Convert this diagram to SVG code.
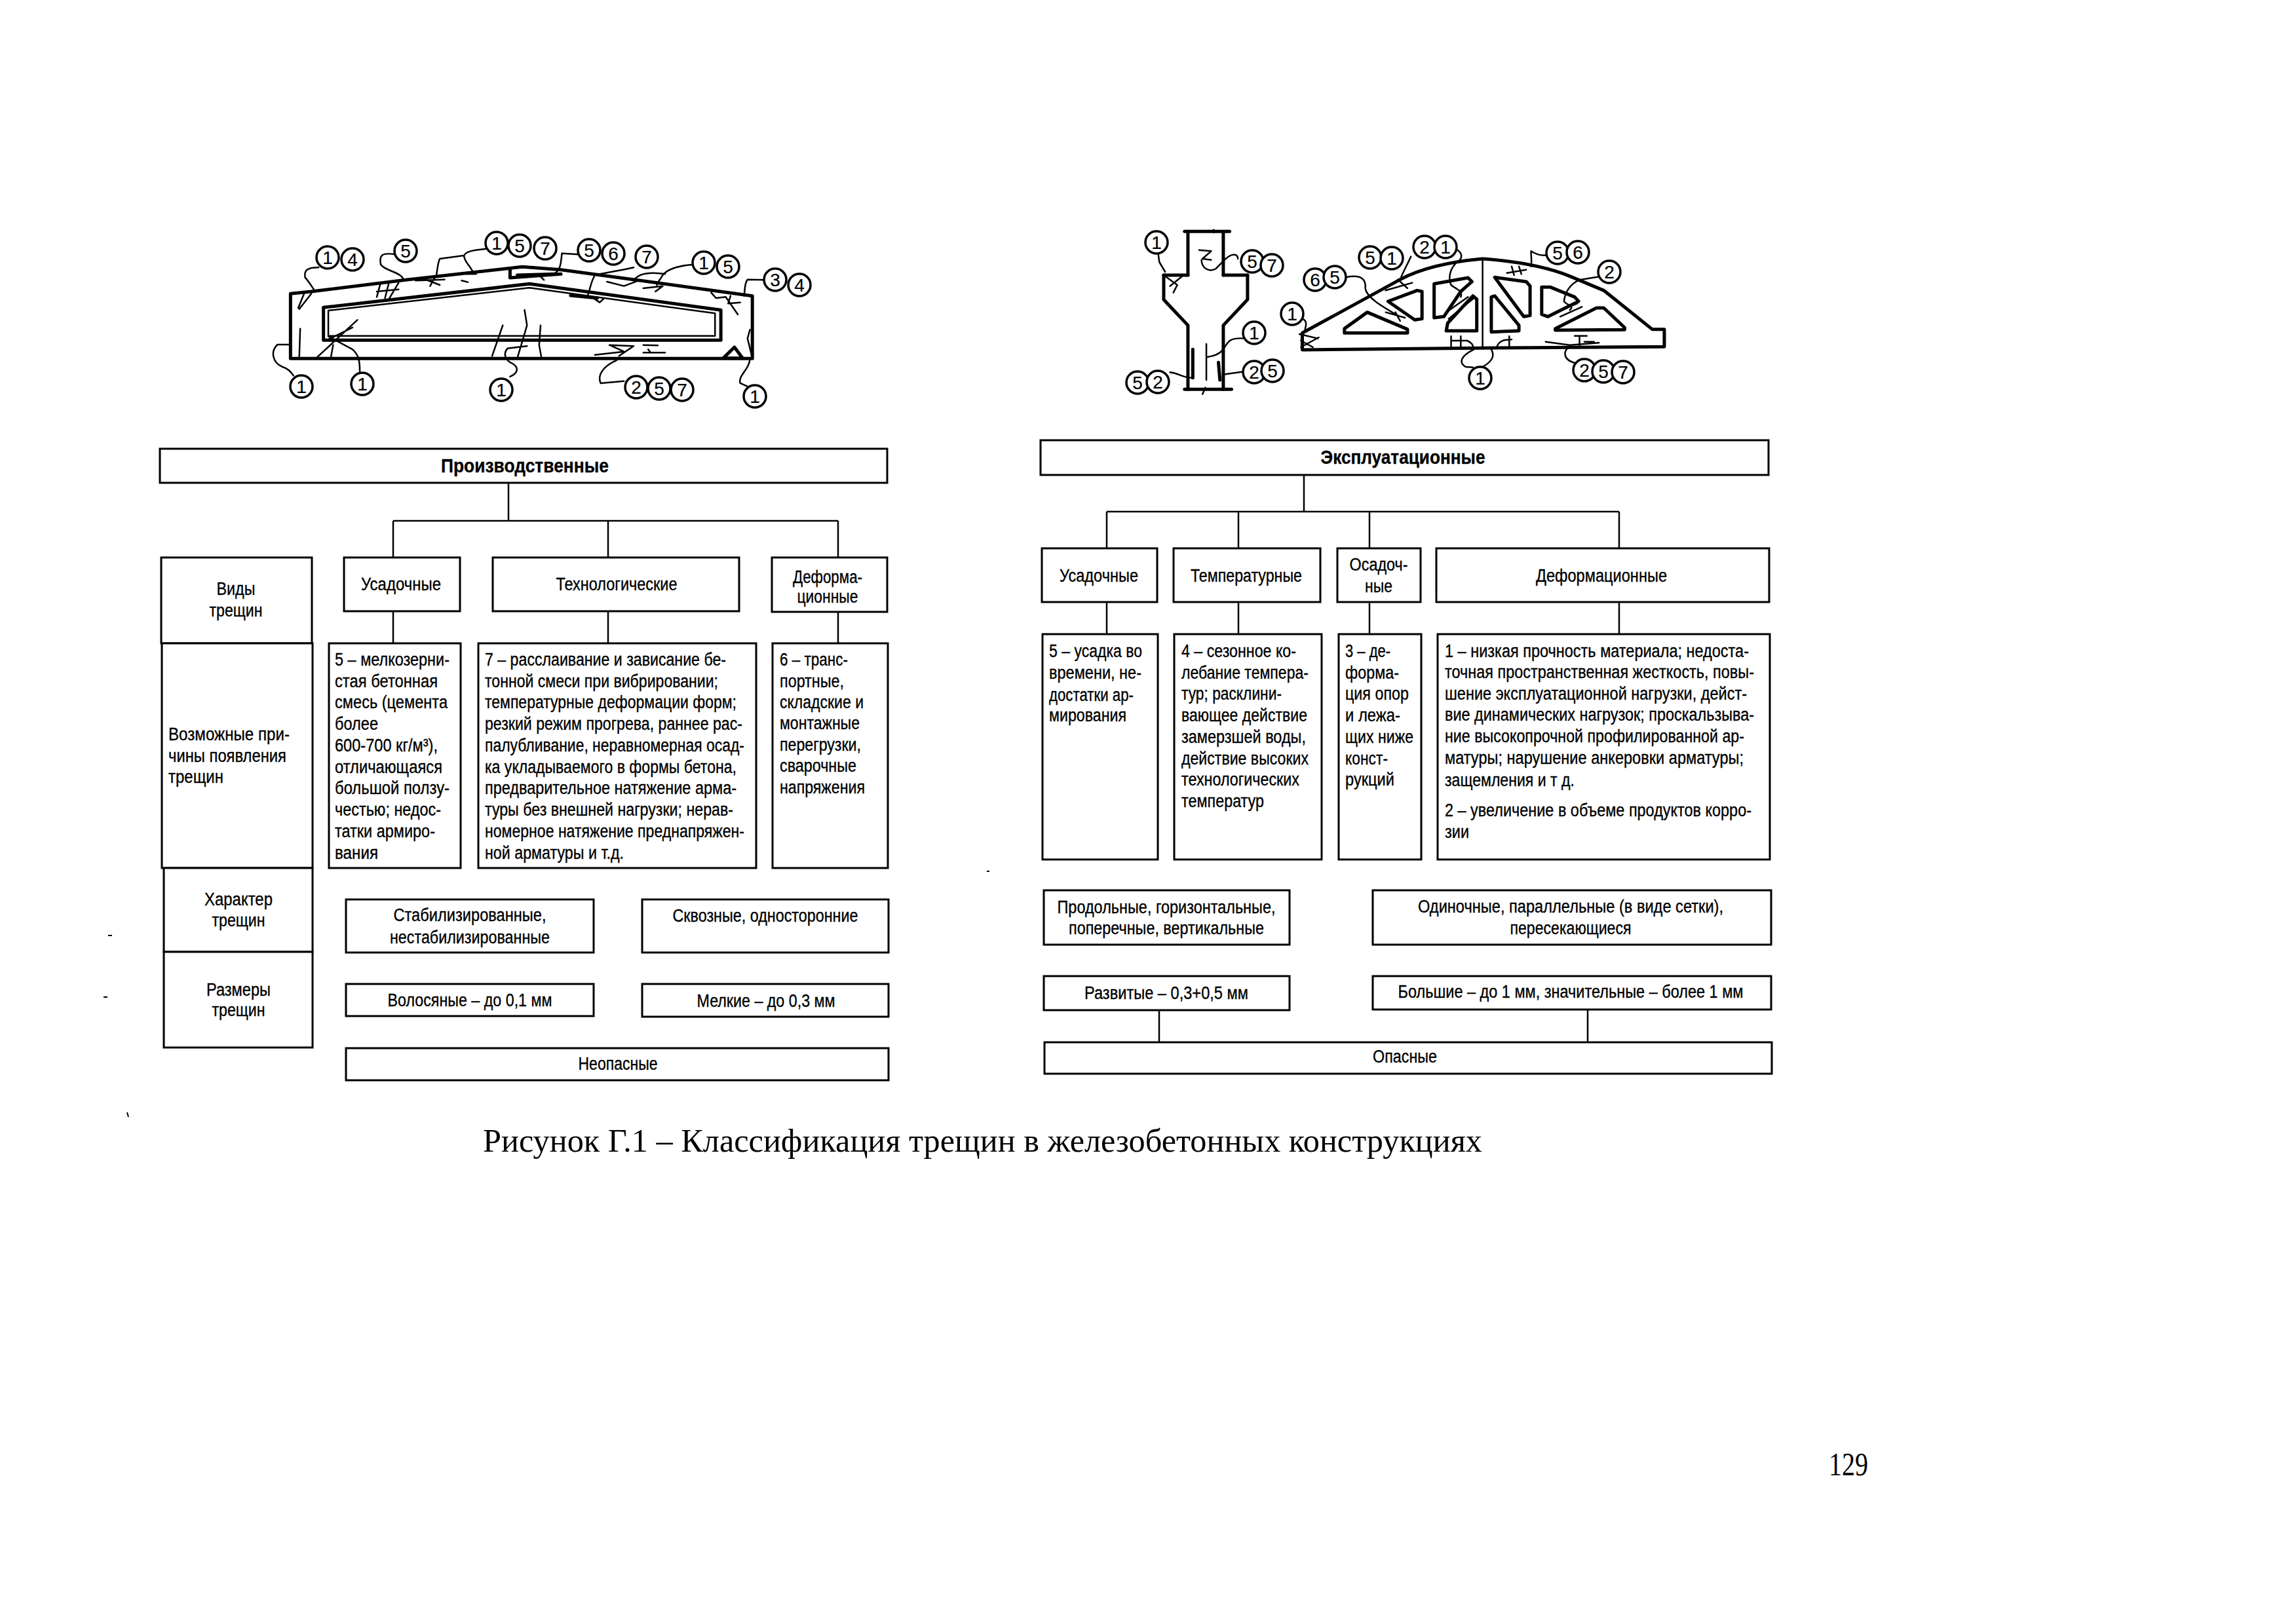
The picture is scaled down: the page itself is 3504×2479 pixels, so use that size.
<svg xmlns="http://www.w3.org/2000/svg" width="3504" height="2479" viewBox="0 0 3504 2479">
<style>
text{font-family:"Liberation Sans",Arial,sans-serif;font-size:27px;fill:#000;stroke:#000;stroke-width:.35px}
.m{text-anchor:middle}
.h{font-weight:bold;font-size:29px}
.cap{font-family:"Liberation Serif","Times New Roman",serif;font-size:50px;stroke:none}
.n{font-size:28px;text-anchor:middle;stroke-width:.2px}
.b{fill:#fff;stroke:#000;stroke-width:3px}
.c{fill:none;stroke:#000;stroke-width:2.5px}
.o{fill:#fff;stroke:#000;stroke-width:3.5px}
.s{fill:none;stroke:#000;stroke-width:2px}
.d path{fill:none;stroke:#000;stroke-linejoin:round;stroke-linecap:round;vector-effect:non-scaling-stroke;stroke-width:2.5px}
.d path.k{stroke-width:5px}
</style>
<rect width="3504" height="2479" fill="#fff"/>

<g id="connectors" class="c">
<path d="M776 737V795M600 795H1279M600 795V851M928 795V851M1279 795V851M600 933V982M928 933V982M1279 934V982"/>
<path d="M1990 725V781M1689 781H2471M1689 781V837M1890 781V837M2090 781V837M2471 781V837M1689 919V968M1890 919V968M2090 919V968M2471 919V968"/>
<path d="M1769 1542V1591M2423 1541V1591"/>
</g>

<g id="drawing-beam" class="d" transform="translate(220 320) scale(.7396 .3333)">
<path class="k" d="M302 682V385L345 375L540 322L780 262L860 275L1255 395V682H302Z"/>
<path class="k" d="M370 595V448L795 340L1190 460V598H370Z"/>
<path d="M380 578V462L795 358L1178 475V578H380Z"/>
<path d="M360 265C335 265 330 280 332 310C340 330 345 350 350 365M345 385L320 455M330 385L318 450"/>
<path d="M518 205C490 195 485 210 488 250C495 280 530 285 535 320M488 335L480 400M505 335L497 405M525 335L505 410M480 375L525 365"/>
<path d="M705 180C680 185 665 190 660 210L610 225C605 250 605 280 603 300M660 210C660 240 675 260 680 295M560 325L620 320M575 315L610 345M600 310L590 350M665 295H685M655 325L668 332"/>
<path class="k" d="M755 275V312L860 295M770 300L850 295"/>
<path d="M815 300L825 322M895 205L862 200C860 240 860 280 845 295"/>
<path d="M1010 265C980 280 950 290 930 300C920 340 920 370 915 395M930 410L940 425L948 408"/>
<path class="k" d="M880 393L935 405"/>
<path d="M1130 252C1090 260 1075 285 1070 300C1065 320 1060 330 1058 345M1075 295C1045 285 1020 290 1010 325M955 330L990 350L1020 325M1030 360L1070 350L1055 375"/>
<path d="M1280 322L1245 320C1238 340 1240 370 1238 395M1170 380L1180 405L1200 400L1225 480M1210 395L1205 430L1230 425"/>
<path d="M302 618H275C260 650 265 700 285 720C300 730 305 750 308 760M322 545L320 680"/>
<path d="M440 505L355 680M385 680L390 620M375 600L430 540M380 580L430 640C440 660 445 680 445 740"/>
<path d="M785 460L790 530L770 680M740 530L718 670M818 530L815 620L820 680M790 625L750 635C740 660 745 690 760 705C775 725 770 750 755 765"/>
<path d="M1250 550L1245 590L1255 680M1250 680C1250 730 1225 760 1230 795L1245 810"/>
<path class="k" d="M1195 680L1218 630L1235 680Z"/>
<path d="M975 690C945 720 935 760 942 795L990 785M930 665L990 650L960 620L1010 625L980 670M1030 620L1060 622M1040 640L1045 655M1030 655H1075"/>
</g>

<g id="drawing-column" class="d" transform="translate(1560 320) scale(.7396 .3333)">
<path class="k" d="M335 100H428M335 823H432M292 300H342M415 300H465"/>
<path d="M395 92V105M378 815L372 845"/>
<path class="k" d="M342 100V300M415 100V300M292 300V412L342 530V823M465 300V412L415 530V823"/>
<path d="M280 190L283 240L295 285M295 305L320 345L312 380M330 305L305 350"/>
<path d="M365 185L390 190L372 225L390 230M370 230C370 265 385 290 400 270L420 225C435 195 445 205 445 225"/>
<path d="M460 590C430 585 425 600 415 640C405 665 395 670 382 675M380 615V780"/>
<path class="k" d="M352 640V770M405 700L408 780"/>
<path d="M305 745C325 750 330 770 350 770M415 755C435 750 445 745 460 742"/>
</g>

<g id="drawing-truss" class="d" transform="translate(1560 320) scale(.7396 .3333)">
<path class="k" d="M578 640V565L780 320C830 260 900 235 950 225C1010 235 1080 260 1130 305L1200 370L1300 548H1325V628L1045 632L578 642"/>
<path d="M950 225V630"/>
<path class="k" d="M665 545L712 470L795 548V565H665ZM755 420L815 370L825 375V500L810 505ZM850 340L920 312L928 330L905 375L870 490L850 495ZM878 520L930 395L938 410V555L875 555ZM968 400L975 395L1025 530V555L968 560ZM975 310L1040 330L1048 350V485L1035 490ZM1072 355H1090L1140 400L1148 420L1085 490L1072 480ZM1100 545L1185 450L1200 450L1243 540V550L1100 552Z"/>
<path d="M578 500C590 510 585 535 582 565M572 570L610 590M575 630L612 585M575 600L600 630"/>
<path d="M668 310C700 295 710 320 708 360C710 400 740 440 775 485M770 470L780 510M750 470L790 495"/>
<path d="M802 215C795 250 785 290 780 320M750 370L805 335M775 320L795 360"/>
<path d="M895 180C910 200 910 225 895 245C880 280 880 320 885 345C895 365 910 370 905 400M880 500L935 400M875 470L920 400"/>
<path d="M1050 190C1050 220 1052 240 1050 260M1090 205C1075 215 1060 205 1050 190M1000 290L1040 275M1010 260L1015 300M1025 260L1030 295"/>
<path d="M1195 305L1150 322C1130 340 1120 380 1118 420C1125 440 1140 440 1130 460M1110 490L1155 445M1100 470L1145 430"/>
<path d="M885 628V580M905 580V628M885 600H918C930 610 930 625 932 640C905 670 900 700 915 720L930 722M1005 580V628M980 625C985 600 995 595 1010 595M965 630C975 660 975 690 950 720"/>
<path d="M1080 605L1130 620L1190 610M1150 580V625M1140 578H1165M1160 605H1180M1130 625C1115 650 1115 690 1145 705"/>
</g>

<g id="callouts">
<g class="o">
<circle cx="500" cy="393" r="17"/><circle cx="538" cy="396" r="17"/><circle cx="619" cy="383" r="17"/>
<circle cx="758" cy="371" r="17"/><circle cx="793" cy="375" r="17"/><circle cx="832" cy="379" r="17"/>
<circle cx="899" cy="382" r="17"/><circle cx="936" cy="387" r="17"/><circle cx="987" cy="392" r="17"/>
<circle cx="1074" cy="401" r="17"/><circle cx="1111" cy="407" r="17"/><circle cx="1183" cy="427" r="17"/><circle cx="1220" cy="435" r="17"/>
<circle cx="460" cy="590" r="17"/><circle cx="553" cy="586" r="17"/><circle cx="765" cy="595" r="17"/>
<circle cx="971" cy="591" r="17"/><circle cx="1006" cy="593" r="17"/><circle cx="1041" cy="595" r="17"/><circle cx="1152" cy="605" r="17"/>
<circle cx="1765" cy="370" r="17"/><circle cx="1911" cy="399" r="17"/><circle cx="1941" cy="405" r="17"/>
<circle cx="1914" cy="508" r="17"/><circle cx="1914" cy="568" r="17"/><circle cx="1942" cy="566" r="17"/>
<circle cx="1736" cy="584" r="17"/><circle cx="1767" cy="583" r="17"/>
<circle cx="2007" cy="427" r="17"/><circle cx="2037" cy="423" r="17"/><circle cx="1972" cy="479" r="17"/>
<circle cx="2091" cy="393" r="17"/><circle cx="2124" cy="394" r="17"/><circle cx="2174" cy="377" r="17"/><circle cx="2206" cy="377" r="17"/>
<circle cx="2377" cy="386" r="17"/><circle cx="2408" cy="385" r="17"/><circle cx="2456" cy="415" r="17"/>
<circle cx="2259" cy="577" r="17"/><circle cx="2418" cy="565" r="17"/><circle cx="2447" cy="567" r="17"/><circle cx="2477" cy="568" r="17"/>
</g>
<text class="n" x="500" y="403">1</text><text class="n" x="538" y="406">4</text><text class="n" x="619" y="393">5</text>
<text class="n" x="758" y="381">1</text><text class="n" x="793" y="385">5</text><text class="n" x="832" y="389">7</text>
<text class="n" x="899" y="392">5</text><text class="n" x="936" y="397">6</text><text class="n" x="987" y="402">7</text>
<text class="n" x="1074" y="411">1</text><text class="n" x="1111" y="417">5</text><text class="n" x="1183" y="437">3</text><text class="n" x="1220" y="445">4</text>
<text class="n" x="460" y="600">1</text><text class="n" x="553" y="596">1</text><text class="n" x="765" y="605">1</text>
<text class="n" x="971" y="601">2</text><text class="n" x="1006" y="603">5</text><text class="n" x="1041" y="605">7</text><text class="n" x="1152" y="615">1</text>
<text class="n" x="1765" y="380">1</text><text class="n" x="1911" y="409">5</text><text class="n" x="1941" y="415">7</text>
<text class="n" x="1914" y="518">1</text><text class="n" x="1914" y="578">2</text><text class="n" x="1942" y="576">5</text>
<text class="n" x="1736" y="594">5</text><text class="n" x="1767" y="593">2</text>
<text class="n" x="2007" y="437">6</text><text class="n" x="2037" y="433">5</text><text class="n" x="1972" y="489">1</text>
<text class="n" x="2091" y="403">5</text><text class="n" x="2124" y="404">1</text><text class="n" x="2174" y="387">2</text><text class="n" x="2206" y="387">1</text>
<text class="n" x="2377" y="396">5</text><text class="n" x="2408" y="395">6</text><text class="n" x="2456" y="425">2</text>
<text class="n" x="2259" y="587">1</text><text class="n" x="2418" y="575">2</text><text class="n" x="2447" y="577">5</text><text class="n" x="2477" y="578">7</text>
</g>

<g id="left-header"><rect class="b" x="244" y="685" width="1110" height="52"/><text class="m h" x="801" y="721" textLength="256" lengthAdjust="spacingAndGlyphs">Производственные</text></g>

<g id="row-vidy"><rect class="b" x="246" y="851" width="230" height="131"/><text class="m" x="360" y="908" textLength="59" lengthAdjust="spacingAndGlyphs">Виды</text><text class="m" x="360" y="941" textLength="81" lengthAdjust="spacingAndGlyphs">трещин</text></g>
<g id="row-prichiny"><rect class="b" x="247" y="982" width="230" height="343"/>
<text x="257" y="1130" textLength="185" lengthAdjust="spacingAndGlyphs">Возможные при-</text><text x="257" y="1163" textLength="180" lengthAdjust="spacingAndGlyphs">чины появления</text><text x="257" y="1195" textLength="84" lengthAdjust="spacingAndGlyphs">трещин</text></g>
<g id="row-harakter"><rect class="b" x="250" y="1325" width="227" height="128"/><text class="m" x="364" y="1382" textLength="104" lengthAdjust="spacingAndGlyphs">Характер</text><text class="m" x="364" y="1414" textLength="81" lengthAdjust="spacingAndGlyphs">трещин</text></g>
<g id="row-razmery"><rect class="b" x="250" y="1453" width="227" height="146"/><text class="m" x="364" y="1520" textLength="98" lengthAdjust="spacingAndGlyphs">Размеры</text><text class="m" x="364" y="1551" textLength="81" lengthAdjust="spacingAndGlyphs">трещин</text></g>

<g id="l-usadochnye"><rect class="b" x="525" y="851" width="177" height="82"/><text class="m" x="612" y="901" textLength="122" lengthAdjust="spacingAndGlyphs">Усадочные</text></g>
<g id="l-tehnologicheskie"><rect class="b" x="752" y="851" width="376" height="82"/><text class="m" x="941" y="901" textLength="185" lengthAdjust="spacingAndGlyphs">Технологические</text></g>
<g id="l-deformacionnye"><rect class="b" x="1178" y="851" width="176" height="83"/><text class="m" x="1263" y="890" textLength="106" lengthAdjust="spacingAndGlyphs">Деформа-</text><text class="m" x="1263" y="920" textLength="93" lengthAdjust="spacingAndGlyphs">ционные</text></g>

<g id="l-cause-5"><rect class="b" x="502" y="982" width="201" height="343"/>
<text x="511" y="1016" textLength="175" lengthAdjust="spacingAndGlyphs">5 – мелкозерни-</text>
<text x="511" y="1049" textLength="157" lengthAdjust="spacingAndGlyphs">стая бетонная</text>
<text x="511" y="1081" textLength="172" lengthAdjust="spacingAndGlyphs">смесь (цемента</text>
<text x="511" y="1114" textLength="66" lengthAdjust="spacingAndGlyphs">более</text>
<text x="511" y="1147" textLength="157" lengthAdjust="spacingAndGlyphs">600-700 кг/м³),</text>
<text x="511" y="1180" textLength="164" lengthAdjust="spacingAndGlyphs">отличающаяся</text>
<text x="511" y="1212" textLength="175" lengthAdjust="spacingAndGlyphs">большой ползу-</text>
<text x="511" y="1245" textLength="162" lengthAdjust="spacingAndGlyphs">честью; недос-</text>
<text x="511" y="1278" textLength="153" lengthAdjust="spacingAndGlyphs">татки армиро-</text>
<text x="511" y="1311" textLength="66" lengthAdjust="spacingAndGlyphs">вания</text></g>

<g id="l-cause-7"><rect class="b" x="730" y="982" width="424" height="343"/>
<text x="740" y="1016" textLength="368" lengthAdjust="spacingAndGlyphs">7 – расслаивание и зависание бе-</text>
<text x="740" y="1049" textLength="356" lengthAdjust="spacingAndGlyphs">тонной смеси при вибрировании;</text>
<text x="740" y="1081" textLength="384" lengthAdjust="spacingAndGlyphs">температурные деформации форм;</text>
<text x="740" y="1114" textLength="393" lengthAdjust="spacingAndGlyphs">резкий режим прогрева, раннее рас-</text>
<text x="740" y="1147" textLength="396" lengthAdjust="spacingAndGlyphs">палубливание, неравномерная осад-</text>
<text x="740" y="1180" textLength="384" lengthAdjust="spacingAndGlyphs">ка укладываемого в формы бетона,</text>
<text x="740" y="1212" textLength="384" lengthAdjust="spacingAndGlyphs">предварительное натяжение арма-</text>
<text x="740" y="1245" textLength="379" lengthAdjust="spacingAndGlyphs">туры без внешней нагрузки; нерав-</text>
<text x="740" y="1278" textLength="396" lengthAdjust="spacingAndGlyphs">номерное натяжение преднапряжен-</text>
<text x="740" y="1311" textLength="212" lengthAdjust="spacingAndGlyphs">ной арматуры и т.д.</text></g>

<g id="l-cause-6"><rect class="b" x="1179" y="982" width="176" height="343"/>
<text x="1190" y="1016" textLength="104" lengthAdjust="spacingAndGlyphs">6 – транс-</text>
<text x="1190" y="1049" textLength="98" lengthAdjust="spacingAndGlyphs">портные,</text>
<text x="1190" y="1081" textLength="128" lengthAdjust="spacingAndGlyphs">складские и</text>
<text x="1190" y="1113" textLength="122" lengthAdjust="spacingAndGlyphs">монтажные</text>
<text x="1190" y="1146" textLength="124" lengthAdjust="spacingAndGlyphs">перегрузки,</text>
<text x="1190" y="1178" textLength="117" lengthAdjust="spacingAndGlyphs">сварочные</text>
<text x="1190" y="1211" textLength="130" lengthAdjust="spacingAndGlyphs">напряжения</text></g>

<g id="l-char-1"><rect class="b" x="528" y="1373" width="378" height="81"/><text class="m" x="717" y="1406" textLength="233" lengthAdjust="spacingAndGlyphs">Стабилизированные,</text><text class="m" x="717" y="1440" textLength="244" lengthAdjust="spacingAndGlyphs">нестабилизированные</text></g>
<g id="l-char-2"><rect class="b" x="980" y="1373" width="376" height="81"/><text class="m" x="1168" y="1407" textLength="283" lengthAdjust="spacingAndGlyphs">Сквозные, односторонние</text></g>
<g id="l-size-1"><rect class="b" x="528" y="1502" width="378" height="49"/><text class="m" x="717" y="1536" textLength="251" lengthAdjust="spacingAndGlyphs">Волосяные – до 0,1 мм</text></g>
<g id="l-size-2"><rect class="b" x="980" y="1502" width="376" height="50"/><text class="m" x="1169" y="1537" textLength="211" lengthAdjust="spacingAndGlyphs">Мелкие – до 0,3 мм</text></g>
<g id="l-neopasnye"><rect class="b" x="528" y="1600" width="828" height="49"/><text class="m" x="943" y="1633" textLength="121" lengthAdjust="spacingAndGlyphs">Неопасные</text></g>

<g id="right-header"><rect class="b" x="1588" y="672" width="1111" height="53"/><text class="m h" x="2141" y="708" textLength="251" lengthAdjust="spacingAndGlyphs">Эксплуатационные</text></g>

<g id="r-usadochnye"><rect class="b" x="1590" y="837" width="176" height="82"/><text class="m" x="1677" y="888" textLength="120" lengthAdjust="spacingAndGlyphs">Усадочные</text></g>
<g id="r-temperaturnye"><rect class="b" x="1791" y="837" width="224" height="82"/><text class="m" x="1902" y="888" textLength="170" lengthAdjust="spacingAndGlyphs">Температурные</text></g>
<g id="r-osadochnye"><rect class="b" x="2041" y="837" width="127" height="82"/><text class="m" x="2104" y="871" textLength="89" lengthAdjust="spacingAndGlyphs">Осадоч-</text><text class="m" x="2104" y="904" textLength="42" lengthAdjust="spacingAndGlyphs">ные</text></g>
<g id="r-deformacionnye"><rect class="b" x="2192" y="837" width="508" height="82"/><text class="m" x="2444" y="888" textLength="200" lengthAdjust="spacingAndGlyphs">Деформационные</text></g>

<g id="r-cause-5"><rect class="b" x="1591" y="968" width="176" height="344"/>
<text x="1601" y="1003" textLength="142" lengthAdjust="spacingAndGlyphs">5 – усадка во</text>
<text x="1601" y="1036" textLength="141" lengthAdjust="spacingAndGlyphs">времени, не-</text>
<text x="1601" y="1070" textLength="129" lengthAdjust="spacingAndGlyphs">достатки ар-</text>
<text x="1601" y="1101" textLength="118" lengthAdjust="spacingAndGlyphs">мирования</text></g>

<g id="r-cause-4"><rect class="b" x="1792" y="968" width="225" height="344"/>
<text x="1803" y="1003" textLength="175" lengthAdjust="spacingAndGlyphs">4 – сезонное ко-</text>
<text x="1803" y="1036" textLength="194" lengthAdjust="spacingAndGlyphs">лебание темпера-</text>
<text x="1803" y="1068" textLength="153" lengthAdjust="spacingAndGlyphs">тур; расклини-</text>
<text x="1803" y="1101" textLength="192" lengthAdjust="spacingAndGlyphs">вающее действие</text>
<text x="1803" y="1134" textLength="190" lengthAdjust="spacingAndGlyphs">замерзшей воды,</text>
<text x="1803" y="1167" textLength="194" lengthAdjust="spacingAndGlyphs">действие высоких</text>
<text x="1803" y="1199" textLength="180" lengthAdjust="spacingAndGlyphs">технологических</text>
<text x="1803" y="1232" textLength="126" lengthAdjust="spacingAndGlyphs">температур</text></g>

<g id="r-cause-3"><rect class="b" x="2043" y="968" width="126" height="344"/>
<text x="2053" y="1003" textLength="69" lengthAdjust="spacingAndGlyphs">3 – де-</text>
<text x="2053" y="1036" textLength="82" lengthAdjust="spacingAndGlyphs">форма-</text>
<text x="2053" y="1068" textLength="97" lengthAdjust="spacingAndGlyphs">ция опор</text>
<text x="2053" y="1101" textLength="84" lengthAdjust="spacingAndGlyphs">и лежа-</text>
<text x="2053" y="1134" textLength="104" lengthAdjust="spacingAndGlyphs">щих ниже</text>
<text x="2053" y="1167" textLength="65" lengthAdjust="spacingAndGlyphs">конст-</text>
<text x="2053" y="1199" textLength="75" lengthAdjust="spacingAndGlyphs">рукций</text></g>

<g id="r-cause-1-2"><rect class="b" x="2194" y="968" width="507" height="344"/>
<text x="2205" y="1003" textLength="464" lengthAdjust="spacingAndGlyphs">1 – низкая прочность материала; недоста-</text>
<text x="2205" y="1035" textLength="472" lengthAdjust="spacingAndGlyphs">точная пространственная жесткость, повы-</text>
<text x="2205" y="1068" textLength="461" lengthAdjust="spacingAndGlyphs">шение эксплуатационной нагрузки, дейст-</text>
<text x="2205" y="1100" textLength="472" lengthAdjust="spacingAndGlyphs">вие динамических нагрузок; проскальзыва-</text>
<text x="2205" y="1133" textLength="457" lengthAdjust="spacingAndGlyphs">ние высокопрочной профилированной ар-</text>
<text x="2205" y="1166" textLength="456" lengthAdjust="spacingAndGlyphs">матуры; нарушение анкеровки арматуры;</text>
<text x="2205" y="1200" textLength="198" lengthAdjust="spacingAndGlyphs">защемления и т д.</text>
<text x="2205" y="1246" textLength="468" lengthAdjust="spacingAndGlyphs">2 – увеличение в объеме продуктов корро-</text>
<text x="2205" y="1279" textLength="37" lengthAdjust="spacingAndGlyphs">зии</text></g>

<g id="r-char-1"><rect class="b" x="1593" y="1359" width="375" height="83"/><text class="m" x="1780" y="1394" textLength="333" lengthAdjust="spacingAndGlyphs">Продольные, горизонтальные,</text><text class="m" x="1780" y="1426" textLength="298" lengthAdjust="spacingAndGlyphs">поперечные, вертикальные</text></g>
<g id="r-char-2"><rect class="b" x="2095" y="1359" width="608" height="83"/><text class="m" x="2397" y="1393" textLength="466" lengthAdjust="spacingAndGlyphs">Одиночные, параллельные (в виде сетки),</text><text class="m" x="2397" y="1426" textLength="185" lengthAdjust="spacingAndGlyphs">пересекающиеся</text></g>
<g id="r-size-1"><rect class="b" x="1593" y="1490" width="375" height="52"/><text class="m" x="1780" y="1525" textLength="250" lengthAdjust="spacingAndGlyphs">Развитые – 0,3+0,5 мм</text></g>
<g id="r-size-2"><rect class="b" x="2095" y="1490" width="608" height="51"/><text class="m" x="2397" y="1523" textLength="527" lengthAdjust="spacingAndGlyphs">Большие – до 1 мм, значительные – более 1 мм</text></g>
<g id="r-opasnye"><rect class="b" x="1594" y="1591" width="1110" height="48"/><text class="m" x="2144" y="1622" textLength="98" lengthAdjust="spacingAndGlyphs">Опасные</text></g>

<g id="caption"><text class="cap" x="737" y="1758" textLength="1525" lengthAdjust="spacingAndGlyphs">Рисунок Г.1 – Классификация трещин в железобетонных конструкциях</text></g>
<g id="page-number"><text class="cap" x="2791" y="2252" textLength="60" lengthAdjust="spacingAndGlyphs">129</text></g>
<path class="s" d="M165 1428h6M158 1522h6M194 1698l2 7M1506 1330h4"/>
</svg>
